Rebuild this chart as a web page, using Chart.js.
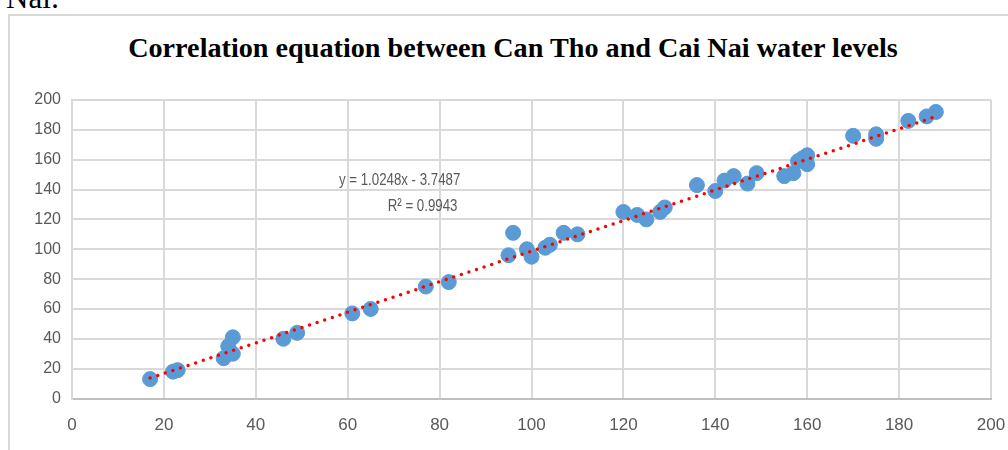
<!DOCTYPE html>
<html>
<head>
<meta charset="utf-8">
<script src="https://cdn.jsdelivr.net/npm/chart.js@4.4.1/dist/chart.umd.min.js"></script>
<style>
  html, body { margin: 0; padding: 0; background: #fff; overflow: hidden; }
  #wrap { position: relative; width: 1008px; height: 450px; }
  #doc-text { position: absolute; left: 6px; top: -17px; font: 31px/30px "Liberation Serif", serif; color: #000; }
  #frame { position: absolute; left: 8px; top: 14px; width: 1010px; height: 450px; border: 2px solid #d9d9d9; box-sizing: border-box; }
  #title { position: absolute; left: 0; width: 1026px; top: 34px; text-align: center; font: bold 28.2px/28px "Liberation Serif", serif; color: #000; }
  #chart { position: absolute; left: 0; top: 0; }
</style>
</head>
<body>
<div id="wrap">
  <div id="doc-text">Nai:</div>
  <div id="frame"></div>
  <div id="title">Correlation equation between Can Tho and Cai Nai water levels</div>
  <canvas id="chart" width="1008" height="450"></canvas>
</div>
<script>
// Datos (nivel Can Tho vs Cai Nai)
const canTho = [17, 22, 23, 33, 34, 35, 35, 46, 49, 61, 65, 77, 82, 95, 96, 99, 100, 103, 104, 107, 110,
  120, 123, 125, 128, 129, 136, 140, 142, 144, 147, 149, 155, 157, 158, 159, 160, 160, 170, 175, 175, 182, 186, 188];
const caiNai = [13, 18, 19, 27, 35, 41, 30, 40, 44, 57, 60, 75, 78, 96, 111, 100, 95, 101, 103, 111, 110,
  125, 123, 120, 125, 128, 143, 139, 146, 149, 144, 151, 149, 151, 159, 161, 163, 157, 176, 177, 174, 186, 189, 192];

// Línea de tendencia (extremos)
const trendX = [17, 188];
const trendY = [13.7, 188.9];

const equationText = 'y = 1.0248x - 3.7487';
const r2Text = 'R² = 0.9943';

const xTicks = [0, 20, 40, 60, 80, 100, 120, 140, 160, 180, 200];
const yTicks = [0, 20, 40, 60, 80, 100, 120, 140, 160, 180, 200];

// Etiqueta de la ecuación (texto estrecho tipo Calibri)
const equationLabel = {
  id: 'equationLabel',
  afterDatasetsDraw(chart) {
    const { ctx, scales } = chart;
    const put = (txt, xv, yv) => {
      ctx.save();
      ctx.translate(scales.x.getPixelForValue(xv), scales.y.getPixelForValue(yv));
      ctx.scale(0.78, 1);
      ctx.fillText(txt, 0, 0);
      ctx.restore();
    };
    ctx.save();
    ctx.fillStyle = '#595959';
    ctx.font = '17px "Liberation Sans", sans-serif';
    ctx.textAlign = 'center';
    ctx.textBaseline = 'middle';
    put(equationText, 71.3, 146.5);
    put(r2Text, 76.3, 129);
    ctx.restore();
  }
};

new Chart(document.getElementById('chart').getContext('2d'), {
  type: 'scatter',
  data: {
    datasets: [
      {
        label: 'Trend',
        type: 'line',
        data: trendX.map((x, i) => ({ x: x, y: trendY[i] })),
        borderColor: '#ff0000',
        borderWidth: 3.5,
        borderDash: [0, 8],
        borderCapStyle: 'round',
        pointRadius: 0,
        fill: false,
        order: 0
      },
      {
        label: 'Data',
        data: canTho.map((x, i) => ({ x: x, y: caiNai[i] })),
        backgroundColor: '#5b9bd5',
        borderColor: '#5b9bd5',
        pointRadius: 7.5,
        pointHoverRadius: 7.5,
        order: 1
      }
    ]
  },
  options: {
    responsive: false,
    animation: false,
    layout: { padding: { top: 100, right: 17, left: 0, bottom: 0 } },
    plugins: { legend: { display: false }, tooltip: { enabled: false }, title: { display: false } },
    scales: {
      x: {
        type: 'linear',
        min: 0, max: 200,
        afterBuildTicks: s => { s.ticks = xTicks.map(v => ({ value: v })); },
        afterFit: s => { s.height = 51.5; s.paddingLeft = 0; s.paddingRight = 0; },
        grid: { color: '#d9d9d9', lineWidth: 2, drawTicks: false },
        border: { color: '#bfbfbf', width: 2 },
        ticks: { color: '#595959', font: { family: '"Liberation Sans", sans-serif', size: 17 }, padding: 17, maxRotation: 0 }
      },
      y: {
        type: 'linear',
        min: 0, max: 200,
        afterBuildTicks: s => { s.ticks = yTicks.map(v => ({ value: v })); },
        afterFit: s => { s.width = 72; s.paddingTop = 0; s.paddingBottom = 0; },
        grid: { color: '#d9d9d9', lineWidth: 2, drawTicks: false },
        border: { color: '#d9d9d9', width: 2 },
        ticks: { color: '#595959', font: { family: '"Liberation Sans", sans-serif', size: 16 }, padding: 11 }
      }
    }
  },
  plugins: [equationLabel]
});
</script>
</body>
</html>
